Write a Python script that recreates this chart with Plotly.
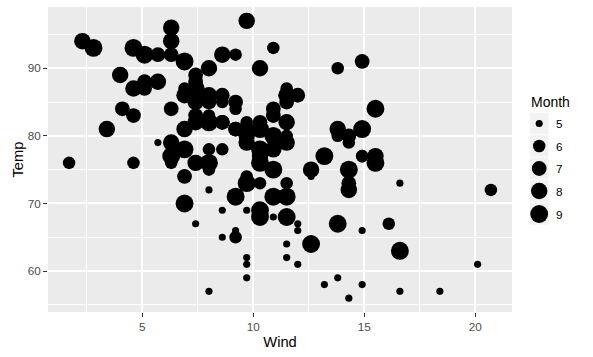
import numpy as np
import plotly.graph_objects as go

wind = [7.4, 8.0, 12.6, 11.5, 14.3, 14.9, 8.6, 13.8, 20.1, 8.6, 6.9, 9.7, 9.2, 10.9, 13.2, 11.5,
        12.0, 18.4, 11.5, 9.7, 9.7, 16.6, 9.7, 12.0, 16.6, 14.9, 8.0, 12.0, 14.9, 5.7, 7.4,
        8.6, 9.7, 16.1, 9.2, 8.6, 14.3, 9.7, 6.9, 13.8, 11.5, 10.9, 9.2, 8.0, 13.8, 11.5, 14.9,
        20.7, 9.2, 11.5, 10.3, 6.3, 1.7, 4.6, 6.3, 8.0, 8.0, 10.3, 11.5, 14.9, 8.0,
        4.1, 9.2, 9.2, 10.9, 4.6, 10.9, 5.1, 6.3, 5.7, 7.4, 8.6, 14.3, 14.9, 14.9, 14.3, 6.9,
        10.3, 6.3, 5.1, 11.5, 6.9, 9.7, 11.5, 8.6, 8.0, 8.6, 12.0, 7.4, 7.4, 7.4, 9.2,
        6.9, 13.8, 7.4, 6.9, 7.4, 4.6, 4.0, 10.3, 8.0, 8.6, 11.5, 11.5, 11.5, 9.7, 11.5, 10.3,
        6.3, 7.4, 10.9, 10.3, 15.5, 14.3, 12.6, 9.7, 3.4, 8.0, 5.7, 9.7, 2.3, 6.3, 6.3,
        6.9, 5.1, 2.8, 4.6, 7.4, 15.5, 10.9, 10.3, 10.9, 9.7, 14.9, 15.5, 6.3, 10.9, 11.5, 6.9,
        13.8, 10.3, 10.3, 8.0, 12.6, 9.2, 10.3, 10.3, 16.6, 6.9, 13.2, 14.3, 8.0, 11.5]

temp = [67, 72, 74, 62, 56, 66, 65, 59, 61, 69, 74, 69, 66, 68, 58, 64,
        66, 57, 68, 62, 59, 73, 61, 61, 57, 58, 57, 67, 81, 79, 76,
        78, 74, 67, 84, 85, 79, 82, 87, 90, 87, 93, 92, 82, 80, 79, 77,
        72, 65, 73, 76, 77, 76, 76, 76, 75, 78, 73, 80, 77, 83,
        84, 85, 81, 84, 83, 83, 88, 92, 92, 89, 82, 73, 81, 91, 80, 81,
        82, 84, 87, 85, 74, 81, 82, 86, 85, 82, 86, 88, 86, 83, 81,
        81, 81, 82, 86, 85, 87, 89, 90, 90, 92, 86, 86, 82, 80, 79, 77,
        79, 76, 78, 78, 77, 72, 75, 79, 81, 86, 88, 97, 94, 96, 94,
        91, 92, 93, 93, 87, 84, 80, 78, 75, 73, 81, 76, 77, 71, 71, 78,
        67, 76, 68, 82, 64, 71, 81, 69, 63, 70, 77, 75, 76, 68]

month = [5] * 31 + [6] * 30 + [7] * 31 + [8] * 31 + [9] * 30

month_levels = [5, 6, 7, 8, 9]
x_ticks = [5, 10, 15, 20]
y_ticks = [60, 70, 80, 90]

FONT = "Liberation Sans, Arial, sans-serif"
W, H = 593, 357
ML, MR, MT, MB = 48, 81, 7, 45
PW, PH = W - ML - MR, H - MT - MB


def px_x(px):
    return (px - ML) / PW


def px_y(py):
    return (H - MB - py) / PH


def size_scale(m):
    m = np.asarray(m, dtype=float)
    t = (m - min(month_levels)) / (max(month_levels) - min(month_levels))
    s = 1 + 5 * np.sqrt(t)
    return 5.0 + 2.15 * s


def expand(vals, mult=0.05):
    lo, hi = min(vals), max(vals)
    d = (hi - lo) * mult
    return [lo - d, hi + d]


fig = go.Figure()
fig.add_trace(go.Scatter(
    x=wind, y=temp, mode="markers",
    marker=dict(size=size_scale(month), color="black", opacity=1, line=dict(width=0)),
    showlegend=False, hoverinfo="x+y",
))

axis_common = dict(
    showgrid=True, gridcolor="white", gridwidth=1.9,
    zeroline=False, showline=False,
    ticks="outside", ticklen=4, tickwidth=1, tickcolor="#333333",
    tickfont=dict(family=FONT, size=11.7, color="#4D4D4D"),
)

fig.update_layout(
    width=W, height=H,
    margin=dict(l=ML, r=MR, t=MT, b=MB, autoexpand=False),
    paper_bgcolor="white", plot_bgcolor="#EBEBEB",
    font=dict(family=FONT),
    xaxis=dict(
        range=expand(wind), tickvals=x_ticks, ticktext=[str(v) for v in x_ticks],
        minor=dict(tickvals=[2.5, 7.5, 12.5, 17.5], showgrid=True, gridcolor="white", gridwidth=0.95, ticks=""),
        title=dict(text="Wind", font=dict(family=FONT, size=14.7, color="black"), standoff=4),
        **axis_common,
    ),
    yaxis=dict(
        range=expand(temp), tickvals=y_ticks, ticktext=[str(v) for v in y_ticks],
        minor=dict(tickvals=[55, 65, 75, 85, 95], showgrid=True, gridcolor="white", gridwidth=0.95, ticks=""),
        title=dict(text="Temp", font=dict(family=FONT, size=14.7, color="black"), standoff=0),
        **axis_common,
    ),
)

# Legend (ggplot style): title, grey key boxes, circle keys, labels
shapes = []
annotations = []
annotations.append(dict(
    x=px_x(529), y=px_y(101.5), xref="paper", yref="paper", text="Month",
    showarrow=False, xanchor="left", yanchor="middle",
    font=dict(family=FONT, size=14, color="black"),
))
key_centers = [123.5, 146, 168.5, 191, 214]
key_sizes = size_scale(month_levels)
for lvl, cy, d in zip(month_levels, key_centers, key_sizes):
    shapes.append(dict(
        type="rect", xref="paper", yref="paper",
        x0=px_x(530), x1=px_x(548.5), y0=px_y(cy - 10.8), y1=px_y(cy + 10.8),
        fillcolor="#F2F2F2", line=dict(width=0), layer="above",
    ))
    shapes.append(dict(
        type="circle", xref="paper", yref="paper",
        xsizemode="pixel", ysizemode="pixel",
        xanchor=px_x(539.2), yanchor=px_y(cy),
        x0=-d / 2, x1=d / 2, y0=-d / 2, y1=d / 2,
        fillcolor="black", line=dict(width=0), layer="above",
    ))
    annotations.append(dict(
        x=px_x(554), y=px_y(cy), xref="paper", yref="paper", text=str(lvl),
        showarrow=False, xanchor="left", yanchor="middle",
        font=dict(family=FONT, size=11.7, color="black"),
    ))

fig.update_layout(shapes=shapes, annotations=annotations)

fig.write_html("out.html")
